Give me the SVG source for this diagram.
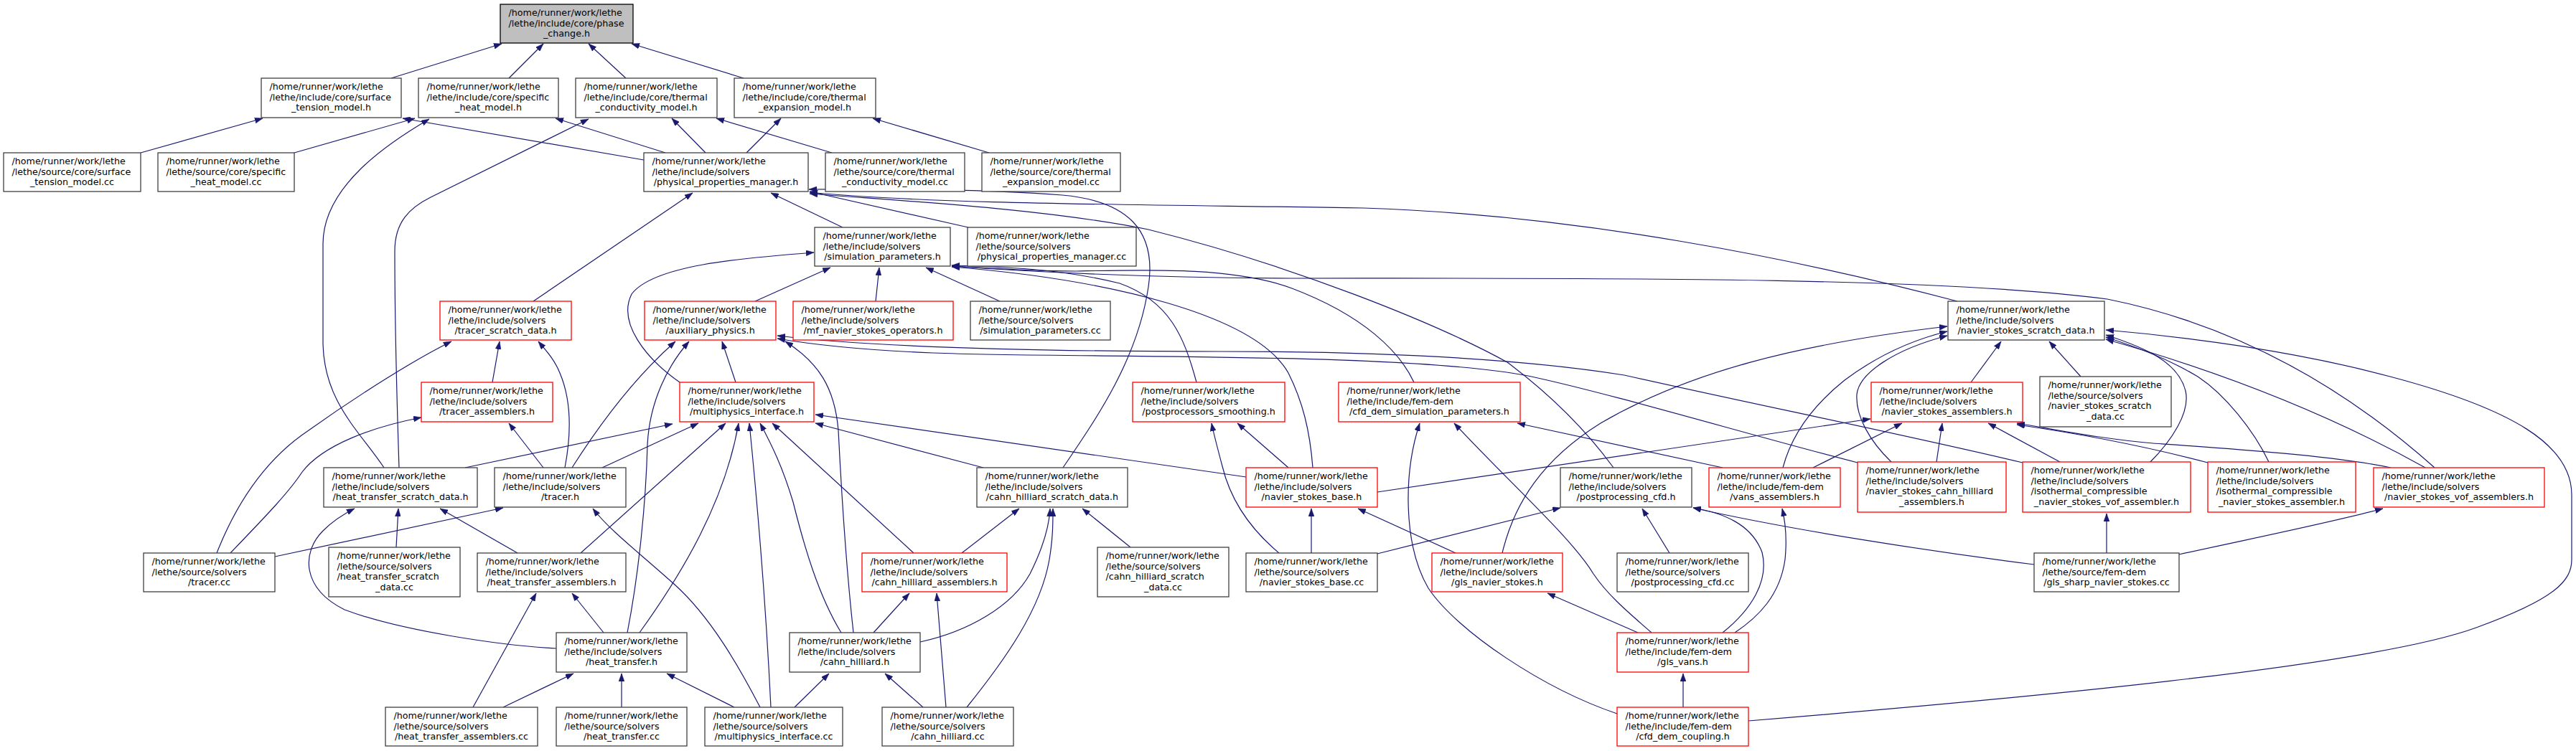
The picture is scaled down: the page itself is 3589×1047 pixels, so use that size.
<svg xmlns="http://www.w3.org/2000/svg" width="3589" height="1047" viewBox="0 0 3589 1047">
<style>
rect{fill:#fff;stroke:#404040;stroke-width:1.3}
.r rect{stroke:#ff0000}
.root rect{fill:#bfbfbf;stroke:#000}
text{font-family:"DejaVu Sans",sans-serif;font-size:12.7px;fill:#000}
.m{text-anchor:middle}
#edges path{fill:none;stroke:#191970;stroke-width:1.2;marker-end:url(#ah)}
</style>
<defs>
<marker id="ah" markerUnits="userSpaceOnUse" viewBox="0 0 11 8" refX="11" refY="4" markerWidth="11" markerHeight="8" orient="auto">
<path d="M0,0 L11,4 L0,8 z" fill="#191970" stroke="#191970" stroke-width="0.5"/>
</marker>
</defs>
<rect x="0" y="0" width="3589" height="1047" style="fill:#fff;stroke:none"/>
<g id="edges">
<path d="M545,109 L699,61"/>
<path d="M709,109 L757,61"/>
<path d="M872,109 L820,61"/>
<path d="M1036,109 L880,61"/>
<path d="M196,213 L366,165"/>
<path d="M410,213 L578,165"/>
<path d="M897,223 L561,165"/>
<path d="M927,213 L774,165"/>
<path d="M983,213 L936,165"/>
<path d="M1040,213 L1088,165"/>
<path d="M1159,213 L998,165"/>
<path d="M1378,213 L1216,165"/>
<path d="M535,652 C500,600 452,560 450,480 L450,340 C450,260 540,200 598,166"/>
<path d="M556,652 C553,560 550,420 550,350 C550,310 570,290 600,275 L820,166"/>
<path d="M1174,317 L1074,269"/>
<path d="M1349,317 L1128,267"/>
<path d="M743,420 L965,269"/>
<path d="M1481,652 C1530,580 1585,500 1600,400 C1612,320 1570,280 1480,272 C1350,262 1200,264 1127,264"/>
<path d="M2727,420 C2500,360 2200,300 1900,290 C1600,285 1300,285 1128,268"/>
<path d="M2248,652 C2210,600 2160,550 2100,505 C2000,450 1800,370 1600,320 C1450,290 1250,280 1128,270"/>
<path d="M947,533 C900,500 860,450 880,410 C910,370 1030,360 1134,352"/>
<path d="M1052,420 L1157,373"/>
<path d="M1220,420 L1225,373"/>
<path d="M1393,420 L1290,373"/>
<path d="M1667,533 C1650,470 1630,420 1560,395 C1480,375 1400,372 1326,370"/>
<path d="M1829,652 C1825,600 1815,560 1795,520 C1750,440 1550,390 1326,372"/>
<path d="M3392,652 C3300,570 3150,460 2936,417 C2700,385 2200,388 1800,388 C1600,387 1450,380 1326,371"/>
<path d="M1970,533 C1950,490 1900,440 1800,402 C1720,372 1600,376 1500,378 C1420,378 1370,373 1326,371"/>
<path d="M302,771 C330,700 370,640 430,600 C500,550 580,500 629,476"/>
<path d="M686,533 L696,476"/>
<path d="M787,652 C795,610 797,560 780,520 C772,500 760,488 750,476"/>
<path d="M797,652 C830,600 880,530 941,476"/>
<path d="M874,882 C890,800 900,700 902,620 C905,560 930,510 960,476"/>
<path d="M1025,533 L1006,476"/>
<path d="M1189,882 C1180,800 1172,680 1168,600 C1163,540 1140,505 1094,476"/>
<path d="M2588,645 C2450,610 2250,550 2129,524 C1950,490 1500,500 1300,492 C1200,488 1130,480 1083,472"/>
<path d="M2818,645 C2650,605 2450,565 2263,523 C2100,497 1900,490 1700,490 C1400,490 1200,482 1083,468"/>
<path d="M648,652 L937,591"/>
<path d="M839,652 L973,590"/>
<path d="M809,771 L1011,590"/>
<path d="M891,882 C950,800 1010,700 1029,590"/>
<path d="M1074,986 C1065,800 1050,650 1044,590"/>
<path d="M1172,882 C1140,830 1120,760 1105,700 C1090,650 1075,620 1059,590"/>
<path d="M1273,771 L1076,590"/>
<path d="M1736,665 L1136,578"/>
<path d="M1370,652 L1136,590"/>
<path d="M321,771 C360,730 400,690 421,658 C450,620 520,595 587,582"/>
<path d="M757,652 L709,590"/>
<path d="M383,776 L701,708"/>
<path d="M1059,986 C1030,930 990,860 940,815 C890,770 850,740 826,709"/>
<path d="M775,904 C700,900 560,880 480,850 C420,820 420,770 450,740 C465,725 480,716 494,709"/>
<path d="M552,763 L555,709"/>
<path d="M721,771 L613,709"/>
<path d="M1340,771 L1420,709"/>
<path d="M1282,895 C1350,880 1410,845 1435,800 C1455,760 1462,730 1463,709"/>
<path d="M1347,986 C1400,920 1450,850 1462,780 C1467,750 1467,730 1467,709"/>
<path d="M1575,763 L1508,709"/>
<path d="M1782,771 C1745,740 1715,700 1703,650 C1695,620 1690,600 1688,590"/>
<path d="M1795,652 L1724,590"/>
<path d="M2253,995 C2150,960 2030,880 1990,820 C1955,760 1955,660 1978,590"/>
<path d="M2301,882 C2270,855 2240,830 2220,800 C2190,750 2100,670 2026,590"/>
<path d="M2400,652 L2114,590"/>
<path d="M1919,686 L2606,584"/>
<path d="M2526,652 L2650,590"/>
<path d="M2698,644 L2706,590"/>
<path d="M2870,644 L2770,590"/>
<path d="M3331,652 C3250,635 3100,625 3000,618 C2930,612 2870,600 2810,590"/>
<path d="M3076,645 C3000,625 2900,605 2810,592"/>
<path d="M2093,771 C2110,700 2150,640 2230,590 C2350,520 2500,480 2713,455"/>
<path d="M2484,652 C2495,610 2520,570 2570,530 C2610,500 2660,475 2713,462"/>
<path d="M2635,644 C2605,615 2585,580 2587,550 C2590,520 2640,487 2713,468"/>
<path d="M2746,533 L2788,476"/>
<path d="M2899,525 L2855,476"/>
<path d="M2436,1005 C2800,975 3300,930 3450,875 C3560,835 3583,810 3583,780 L3583,690 C3583,620 3500,570 3330,525 C3200,490 3050,470 2934,460"/>
<path d="M2995,645 C3025,615 3052,575 3045,545 C3035,505 2990,485 2934,467"/>
<path d="M3161,644 C3140,600 3100,550 3062,525 C3020,500 2980,485 2934,470"/>
<path d="M3379,652 C3250,580 3100,520 2934,473"/>
<path d="M1827,771 L1827,709"/>
<path d="M2028,771 L1892,709"/>
<path d="M1919,772 L2174,708"/>
<path d="M2326,771 L2288,709"/>
<path d="M2834,787 C2700,770 2500,740 2359,708"/>
<path d="M2400,882 C2440,850 2465,810 2455,770 C2440,730 2400,715 2359,708"/>
<path d="M2417,882 C2450,860 2480,830 2487,780 C2490,750 2488,730 2483,709"/>
<path d="M2282,882 L2156,827"/>
<path d="M2345,986 L2345,939"/>
<path d="M2935,771 L2935,716"/>
<path d="M3036,773 C3150,748 3250,728 3320,709"/>
<path d="M659,986 L747,827"/>
<path d="M841,882 L797,827"/>
<path d="M1217,882 L1267,827"/>
<path d="M1318,986 L1305,827"/>
<path d="M701,986 L799,939"/>
<path d="M866,986 L866,939"/>
<path d="M1023,986 L929,939"/>
<path d="M1107,986 L1155,939"/>
<path d="M1286,986 L1233,939"/>
</g>
<g id="n1" class="root"><rect x="697" y="6" width="185" height="54"/><text x="708.5" y="22">/home/runner/work/lethe</text><text x="708.5" y="36.6">/lethe/include/core/phase</text><text class="m" x="789.5" y="51.2">_change.h</text></g>
<g id="n2"><rect x="364" y="109" width="195" height="55"/><text x="375.5" y="125">/home/runner/work/lethe</text><text x="375.5" y="139.6">/lethe/include/core/surface</text><text class="m" x="461.5" y="154.2">_tension_model.h</text></g>
<g id="n3"><rect x="583" y="109" width="195" height="55"/><text x="594.5" y="125">/home/runner/work/lethe</text><text x="594.5" y="139.6">/lethe/include/core/specific</text><text class="m" x="680.5" y="154.2">_heat_model.h</text></g>
<g id="n4"><rect x="802" y="109" width="197" height="55"/><text x="813.5" y="125">/home/runner/work/lethe</text><text x="813.5" y="139.6">/lethe/include/core/thermal</text><text class="m" x="900.5" y="154.2">_conductivity_model.h</text></g>
<g id="n5"><rect x="1023" y="109" width="197" height="55"/><text x="1034.5" y="125">/home/runner/work/lethe</text><text x="1034.5" y="139.6">/lethe/include/core/thermal</text><text class="m" x="1121.5" y="154.2">_expansion_model.h</text></g>
<g id="n6"><rect x="5" y="213" width="191" height="54"/><text x="16.5" y="229">/home/runner/work/lethe</text><text x="16.5" y="243.6">/lethe/source/core/surface</text><text class="m" x="100.5" y="258.2">_tension_model.cc</text></g>
<g id="n7"><rect x="220" y="213" width="190" height="54"/><text x="231.5" y="229">/home/runner/work/lethe</text><text x="231.5" y="243.6">/lethe/source/core/specific</text><text class="m" x="315" y="258.2">_heat_model.cc</text></g>
<g id="n8"><rect x="897" y="213" width="229" height="54"/><text x="908.5" y="229">/home/runner/work/lethe</text><text x="908.5" y="243.6">/lethe/include/solvers</text><text class="m" x="1011.5" y="258.2">/physical_properties_manager.h</text></g>
<g id="n9"><rect x="1150" y="213" width="194" height="54"/><text x="1161.5" y="229">/home/runner/work/lethe</text><text x="1161.5" y="243.6">/lethe/source/core/thermal</text><text class="m" x="1247" y="258.2">_conductivity_model.cc</text></g>
<g id="n10"><rect x="1368" y="213" width="193" height="54"/><text x="1379.5" y="229">/home/runner/work/lethe</text><text x="1379.5" y="243.6">/lethe/source/core/thermal</text><text class="m" x="1464.5" y="258.2">_expansion_model.cc</text></g>
<g id="n11"><rect x="1135" y="317" width="189" height="54"/><text x="1146.5" y="333">/home/runner/work/lethe</text><text x="1146.5" y="347.6">/lethe/include/solvers</text><text class="m" x="1229.5" y="362.2">/simulation_parameters.h</text></g>
<g id="n12"><rect x="1348" y="317" width="235" height="54"/><text x="1359.5" y="333">/home/runner/work/lethe</text><text x="1359.5" y="347.6">/lethe/source/solvers</text><text class="m" x="1465.5" y="362.2">/physical_properties_manager.cc</text></g>
<g id="n13" class="r"><rect x="613" y="420" width="183" height="54"/><text x="624.5" y="436">/home/runner/work/lethe</text><text x="624.5" y="450.6">/lethe/include/solvers</text><text class="m" x="704.5" y="465.2">/tracer_scratch_data.h</text></g>
<g id="n14" class="r"><rect x="898" y="420" width="183" height="54"/><text x="909.5" y="436">/home/runner/work/lethe</text><text x="909.5" y="450.6">/lethe/include/solvers</text><text class="m" x="989.5" y="465.2">/auxiliary_physics.h</text></g>
<g id="n15" class="r"><rect x="1105" y="420" width="223" height="54"/><text x="1116.5" y="436">/home/runner/work/lethe</text><text x="1116.5" y="450.6">/lethe/include/solvers</text><text class="m" x="1216.5" y="465.2">/mf_navier_stokes_operators.h</text></g>
<g id="n16"><rect x="1352" y="420" width="195" height="54"/><text x="1363.5" y="436">/home/runner/work/lethe</text><text x="1363.5" y="450.6">/lethe/source/solvers</text><text class="m" x="1449.5" y="465.2">/simulation_parameters.cc</text></g>
<g id="n17"><rect x="2714" y="420" width="218" height="54"/><text x="2725.5" y="436">/home/runner/work/lethe</text><text x="2725.5" y="450.6">/lethe/include/solvers</text><text class="m" x="2823" y="465.2">/navier_stokes_scratch_data.h</text></g>
<g id="n18" class="r"><rect x="587" y="533" width="183" height="55"/><text x="598.5" y="549">/home/runner/work/lethe</text><text x="598.5" y="563.6">/lethe/include/solvers</text><text class="m" x="678.5" y="578.2">/tracer_assemblers.h</text></g>
<g id="n19" class="r"><rect x="947" y="533" width="187" height="55"/><text x="958.5" y="549">/home/runner/work/lethe</text><text x="958.5" y="563.6">/lethe/include/solvers</text><text class="m" x="1040.5" y="578.2">/multiphysics_interface.h</text></g>
<g id="n20" class="r"><rect x="1578" y="533" width="212" height="55"/><text x="1589.5" y="549">/home/runner/work/lethe</text><text x="1589.5" y="563.6">/lethe/include/solvers</text><text class="m" x="1684" y="578.2">/postprocessors_smoothing.h</text></g>
<g id="n21" class="r"><rect x="1865" y="533" width="253" height="55"/><text x="1876.5" y="549">/home/runner/work/lethe</text><text x="1876.5" y="563.6">/lethe/include/fem-dem</text><text class="m" x="1991.5" y="578.2">/cfd_dem_simulation_parameters.h</text></g>
<g id="n22" class="r"><rect x="2607" y="533" width="211" height="55"/><text x="2618.5" y="549">/home/runner/work/lethe</text><text x="2618.5" y="563.6">/lethe/include/solvers</text><text class="m" x="2712.5" y="578.2">/navier_stokes_assemblers.h</text></g>
<g id="n23"><rect x="2842" y="525" width="183" height="70"/><text x="2853.5" y="541">/home/runner/work/lethe</text><text x="2853.5" y="555.6">/lethe/source/solvers</text><text x="2853.5" y="570.2">/navier_stokes_scratch</text><text class="m" x="2933.5" y="584.8">_data.cc</text></g>
<g id="n24"><rect x="451" y="652" width="214" height="55"/><text x="462.5" y="668">/home/runner/work/lethe</text><text x="462.5" y="682.6">/lethe/include/solvers</text><text class="m" x="558" y="697.2">/heat_transfer_scratch_data.h</text></g>
<g id="n25"><rect x="689" y="652" width="183" height="55"/><text x="700.5" y="668">/home/runner/work/lethe</text><text x="700.5" y="682.6">/lethe/include/solvers</text><text class="m" x="780.5" y="697.2">/tracer.h</text></g>
<g id="n26"><rect x="1361" y="652" width="210" height="55"/><text x="1372.5" y="668">/home/runner/work/lethe</text><text x="1372.5" y="682.6">/lethe/include/solvers</text><text class="m" x="1466" y="697.2">/cahn_hilliard_scratch_data.h</text></g>
<g id="n27" class="r"><rect x="1736" y="652" width="183" height="55"/><text x="1747.5" y="668">/home/runner/work/lethe</text><text x="1747.5" y="682.6">/lethe/include/solvers</text><text class="m" x="1827.5" y="697.2">/navier_stokes_base.h</text></g>
<g id="n28"><rect x="2174" y="652" width="183" height="55"/><text x="2185.5" y="668">/home/runner/work/lethe</text><text x="2185.5" y="682.6">/lethe/include/solvers</text><text class="m" x="2265.5" y="697.2">/postprocessing_cfd.h</text></g>
<g id="n29" class="r"><rect x="2381" y="652" width="183" height="55"/><text x="2392.5" y="668">/home/runner/work/lethe</text><text x="2392.5" y="682.6">/lethe/include/fem-dem</text><text class="m" x="2472.5" y="697.2">/vans_assemblers.h</text></g>
<g id="n30" class="r"><rect x="2588" y="644" width="207" height="70"/><text x="2599.5" y="660">/home/runner/work/lethe</text><text x="2599.5" y="674.6">/lethe/include/solvers</text><text x="2599.5" y="689.2">/navier_stokes_cahn_hilliard</text><text class="m" x="2691.5" y="703.8">_assemblers.h</text></g>
<g id="n31" class="r"><rect x="2818" y="644" width="234" height="70"/><text x="2829.5" y="660">/home/runner/work/lethe</text><text x="2829.5" y="674.6">/lethe/include/solvers</text><text x="2829.5" y="689.2">/isothermal_compressible</text><text class="m" x="2935" y="703.8">_navier_stokes_vof_assembler.h</text></g>
<g id="n32" class="r"><rect x="3076" y="644" width="206" height="70"/><text x="3087.5" y="660">/home/runner/work/lethe</text><text x="3087.5" y="674.6">/lethe/include/solvers</text><text x="3087.5" y="689.2">/isothermal_compressible</text><text class="m" x="3179" y="703.8">_navier_stokes_assembler.h</text></g>
<g id="n33" class="r"><rect x="3307" y="652" width="238" height="55"/><text x="3318.5" y="668">/home/runner/work/lethe</text><text x="3318.5" y="682.6">/lethe/include/solvers</text><text class="m" x="3426" y="697.2">/navier_stokes_vof_assemblers.h</text></g>
<g id="n34"><rect x="200" y="771" width="183" height="54"/><text x="211.5" y="787">/home/runner/work/lethe</text><text x="211.5" y="801.6">/lethe/source/solvers</text><text class="m" x="291.5" y="816.2">/tracer.cc</text></g>
<g id="n35"><rect x="458" y="763" width="183" height="69"/><text x="469.5" y="779">/home/runner/work/lethe</text><text x="469.5" y="793.6">/lethe/source/solvers</text><text x="469.5" y="808.2">/heat_transfer_scratch</text><text class="m" x="549.5" y="822.8">_data.cc</text></g>
<g id="n36"><rect x="665" y="771" width="207" height="54"/><text x="676.5" y="787">/home/runner/work/lethe</text><text x="676.5" y="801.6">/lethe/include/solvers</text><text class="m" x="768.5" y="816.2">/heat_transfer_assemblers.h</text></g>
<g id="n37" class="r"><rect x="1201" y="771" width="202" height="54"/><text x="1212.5" y="787">/home/runner/work/lethe</text><text x="1212.5" y="801.6">/lethe/include/solvers</text><text class="m" x="1302" y="816.2">/cahn_hilliard_assemblers.h</text></g>
<g id="n38"><rect x="1529" y="763" width="183" height="69"/><text x="1540.5" y="779">/home/runner/work/lethe</text><text x="1540.5" y="793.6">/lethe/source/solvers</text><text x="1540.5" y="808.2">/cahn_hilliard_scratch</text><text class="m" x="1620.5" y="822.8">_data.cc</text></g>
<g id="n39"><rect x="1736" y="771" width="183" height="54"/><text x="1747.5" y="787">/home/runner/work/lethe</text><text x="1747.5" y="801.6">/lethe/source/solvers</text><text class="m" x="1827.5" y="816.2">/navier_stokes_base.cc</text></g>
<g id="n40" class="r"><rect x="1995" y="771" width="182" height="54"/><text x="2006.5" y="787">/home/runner/work/lethe</text><text x="2006.5" y="801.6">/lethe/include/solvers</text><text class="m" x="2086" y="816.2">/gls_navier_stokes.h</text></g>
<g id="n41"><rect x="2253" y="771" width="183" height="54"/><text x="2264.5" y="787">/home/runner/work/lethe</text><text x="2264.5" y="801.6">/lethe/source/solvers</text><text class="m" x="2344.5" y="816.2">/postprocessing_cfd.cc</text></g>
<g id="n42"><rect x="2834" y="771" width="202" height="54"/><text x="2845.5" y="787">/home/runner/work/lethe</text><text x="2845.5" y="801.6">/lethe/source/fem-dem</text><text class="m" x="2935" y="816.2">/gls_sharp_navier_stokes.cc</text></g>
<g id="n43"><rect x="775" y="882" width="182" height="55"/><text x="786.5" y="898">/home/runner/work/lethe</text><text x="786.5" y="912.6">/lethe/include/solvers</text><text class="m" x="866" y="927.2">/heat_transfer.h</text></g>
<g id="n44"><rect x="1100" y="882" width="182" height="55"/><text x="1111.5" y="898">/home/runner/work/lethe</text><text x="1111.5" y="912.6">/lethe/include/solvers</text><text class="m" x="1191" y="927.2">/cahn_hilliard.h</text></g>
<g id="n45" class="r"><rect x="2253" y="882" width="183" height="55"/><text x="2264.5" y="898">/home/runner/work/lethe</text><text x="2264.5" y="912.6">/lethe/include/fem-dem</text><text class="m" x="2344.5" y="927.2">/gls_vans.h</text></g>
<g id="n46"><rect x="537" y="986" width="212" height="54"/><text x="548.5" y="1002">/home/runner/work/lethe</text><text x="548.5" y="1016.6">/lethe/source/solvers</text><text class="m" x="643" y="1031.2">/heat_transfer_assemblers.cc</text></g>
<g id="n47"><rect x="775" y="986" width="182" height="54"/><text x="786.5" y="1002">/home/runner/work/lethe</text><text x="786.5" y="1016.6">/lethe/source/solvers</text><text class="m" x="866" y="1031.2">/heat_transfer.cc</text></g>
<g id="n48"><rect x="982" y="986" width="192" height="54"/><text x="993.5" y="1002">/home/runner/work/lethe</text><text x="993.5" y="1016.6">/lethe/source/solvers</text><text class="m" x="1078" y="1031.2">/multiphysics_interface.cc</text></g>
<g id="n49"><rect x="1229" y="986" width="183" height="54"/><text x="1240.5" y="1002">/home/runner/work/lethe</text><text x="1240.5" y="1016.6">/lethe/source/solvers</text><text class="m" x="1320.5" y="1031.2">/cahn_hilliard.cc</text></g>
<g id="n50" class="r"><rect x="2253" y="986" width="183" height="54"/><text x="2264.5" y="1002">/home/runner/work/lethe</text><text x="2264.5" y="1016.6">/lethe/include/fem-dem</text><text class="m" x="2344.5" y="1031.2">/cfd_dem_coupling.h</text></g>
</svg>
